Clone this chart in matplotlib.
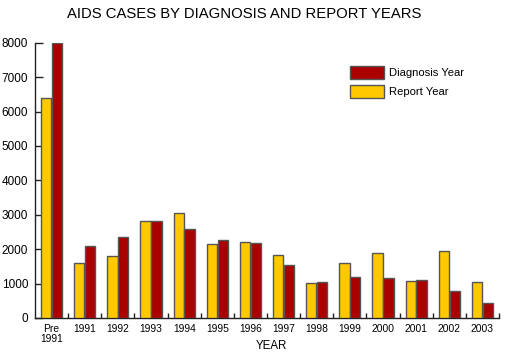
"""AIDS cases by diagnosis year and report year, grouped bars."""

import matplotlib
matplotlib.use("Agg")
import matplotlib.pyplot as plt
from matplotlib.patches import Patch
import numpy as np

plt.rcParams["font.family"] = ["Liberation Sans", "DejaVu Sans"]

# --- Data ---
years = ["Pre\n1991", "1991", "1992", "1993", "1994", "1995", "1996",
         "1997", "1998", "1999", "2000", "2001", "2002", "2003"]
report_year = [6380, 1610, 1810, 2830, 3050, 2160, 2200,
               1830, 1010, 1610, 1890, 1085, 1960, 1060]
diagnosis_year = [8000, 2085, 2355, 2810, 2590, 2260, 2175,
                  1550, 1055, 1185, 1155, 1115, 790, 440]

GOLD = "#FFC800"
RED = "#AA0000"
EDGE = "#555555"

fig = plt.figure(figsize=(5.15, 3.56), dpi=100)
ax = fig.add_axes([35 / 515, 1 - 318 / 356, (499 - 35) / 515, (318 - 42.7) / 356])

x = np.arange(len(years))
w = 0.31
ax.bar(x - 0.165, report_year, width=w, color=GOLD, edgecolor=EDGE,
       linewidth=1.0, zorder=3)
ax.bar(x + 0.165, diagnosis_year, width=w, color=RED, edgecolor=EDGE,
       linewidth=1.0, zorder=3)

ax.set_xlim(-0.5, len(years) - 0.5)
ax.set_ylim(0, 8000)

# axes styling: only left and bottom spines, inward ticks
for side in ("top", "right"):
    ax.spines[side].set_visible(False)
for side in ("left", "bottom"):
    ax.spines[side].set_color("#222222")
    ax.spines[side].set_linewidth(1.0)

ax.set_yticks(np.arange(0, 8001, 1000))
ax.tick_params(axis="y", direction="in", length=6, width=1.0,
               color="#222222", labelsize=8.5, pad=5)

ax.set_xticks(x)
ax.set_xticklabels(years, fontsize=7.4, linespacing=1.0)
ax.tick_params(axis="x", which="major", length=0, pad=4)
ax.set_xticks(x + 0.5, minor=True)
ax.tick_params(axis="x", which="minor", direction="in", length=3.5,
               width=1.0, color="#222222")

ax.set_xlabel("YEAR", fontsize=8.3)
ax.xaxis.set_label_coords(0.509, -0.1)
ax.xaxis.label.set_va("center")

fig.text(0.475, 0.962, "AIDS CASES BY DIAGNOSIS AND REPORT YEARS",
         ha="center", va="center", fontsize=10.7)

handles = [Patch(facecolor=RED, edgecolor=EDGE, linewidth=1.0),
           Patch(facecolor=GOLD, edgecolor=EDGE, linewidth=1.0)]
fig.legend(handles, ["Diagnosis Year", "Report Year"],
           loc="upper left", bbox_to_anchor=(350 / 515, 1 - 66 / 356),
           frameon=False, fontsize=8.1, borderpad=0, borderaxespad=0,
           handlelength=3.0, handleheight=1.45, handletextpad=0.45,
           labelspacing=0.5)

fig.savefig("out.png", dpi=100)
